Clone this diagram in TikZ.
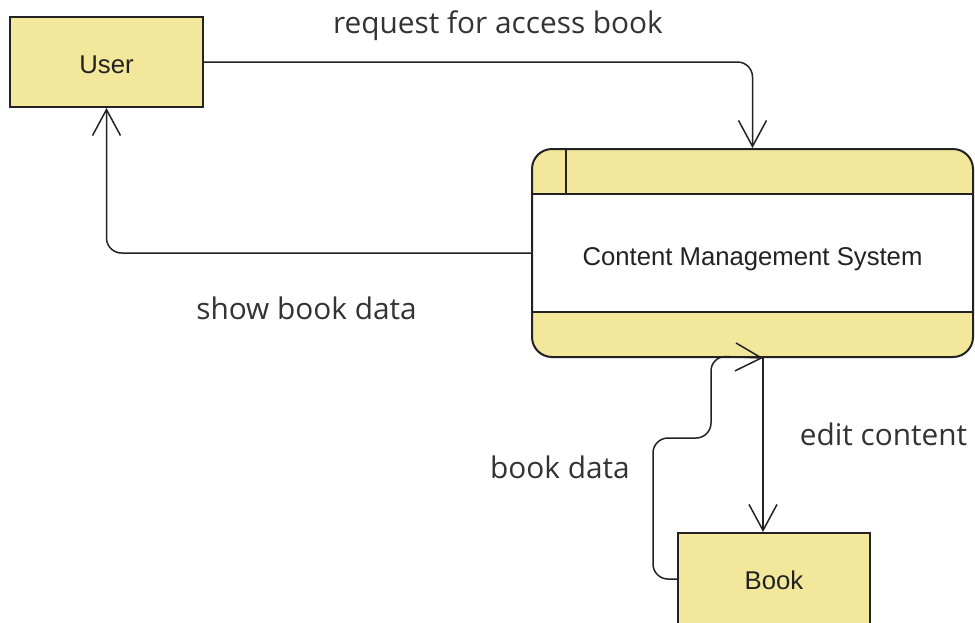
\documentclass[tikz,border=0pt]{standalone}
\usepackage{fontspec}
\setmainfont{Liberation Sans}
\newfontfamily\labelfont{Open Sans}
\usetikzlibrary{arrows.meta}
\definecolor{boxfill}{RGB}{242,231,154}
\definecolor{linecol}{RGB}{34,34,34}
\definecolor{labelcol}{RGB}{51,51,51}
\tikzset{
  nodetext/.style={font=\fontsize{25.7}{30}\selectfont, text=linecol,
    text height=22pt, text depth=0pt},
  entity/.style={draw=linecol, line width=2pt, fill=boxfill, minimum width=193pt,
    minimum height=90pt, inner sep=0pt, nodetext},
  flow/.style={draw=linecol, line width=1.5pt, rounded corners=15pt,
    -{Straight Barb[length=26pt, width=28pt, line width=1.5pt]}},
  flowlabel/.style={font=\labelfont\fontsize{29.8}{34}\selectfont, text=labelcol,
    inner sep=0pt, anchor=base}
}
\begin{document}
\begin{tikzpicture}[x=1pt, y=-1pt]
\useasboundingbox (0,0) rectangle (975,622);

% external entities
\node[entity] (user) at (106.5,62) {User};
\node[entity, minimum width=192pt, minimum height=92pt, text height=20pt] (book) at (774,579) {Book};

% process with header and footer bands
\node[draw=linecol, line width=2pt, fill=boxfill, rounded corners=20pt,
      minimum width=441pt, minimum height=208pt, inner sep=0pt, nodetext,
      text height=24pt,
      path picture={
        \fill[white, sharp corners] ([yshift=-45pt]path picture bounding box.north west)
             rectangle ([yshift=45pt]path picture bounding box.south east);
        \draw[linecol, line width=2pt, sharp corners]
             ([yshift=-45pt]path picture bounding box.north west) -- ([yshift=-45pt]path picture bounding box.north east)
             ([yshift=45pt]path picture bounding box.south west) -- ([yshift=45pt]path picture bounding box.south east)
             ([xshift=34pt]path picture bounding box.north west) -- ([xshift=34pt,yshift=-45pt]path picture bounding box.north west);
      }] (cms) at (752.5,253) {Content Management System};

% data flows
\draw[flow] (user.east) -| (cms.north);
\draw[flow] (cms.west) -| (user.south);
\coordinate (entry) at ([xshift=-11pt]book.north |- cms.south);
\draw[flow] (entry) -- ([xshift=-11pt]book.north);
\draw[flow] (book.west) -- (653,579) -- (653,438) -- (711,438) -- (711,356) -- (entry);

% flow labels (placed by baseline)
\node[flowlabel] (lreq) at (498,33) {request for access book};
\node[flowlabel] (lshow) at (306.5,319) {show book data};
\node[flowlabel] (lbook) at (560,478) {book data};
\node[flowlabel] (ledit) at (883.5,445) {edit content};
\end{tikzpicture}
\end{document}
